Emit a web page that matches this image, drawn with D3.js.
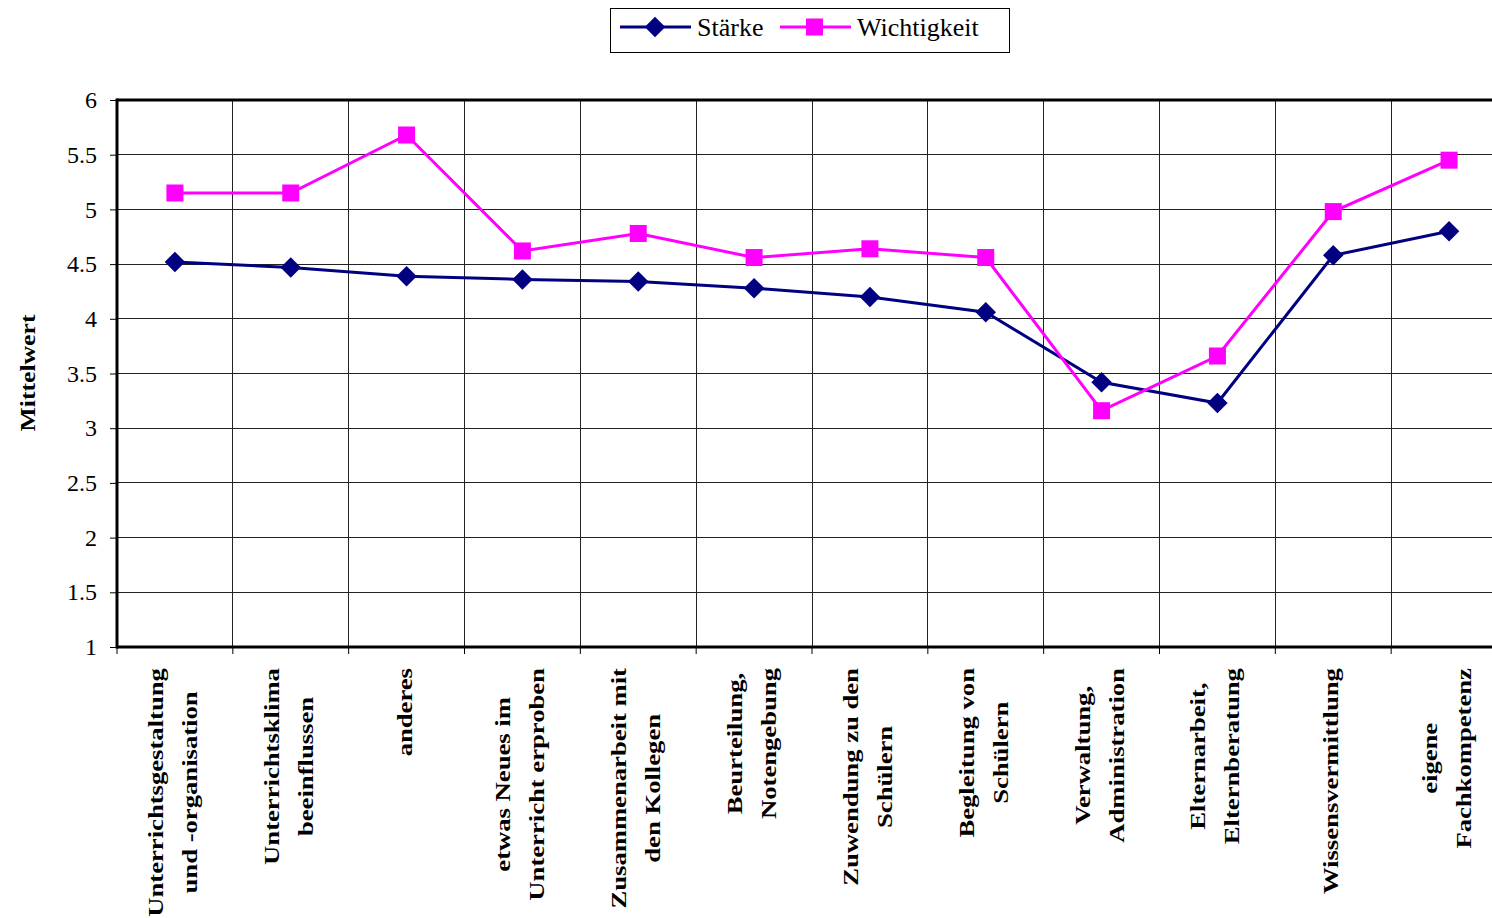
<!DOCTYPE html>
<html>
<head>
<meta charset="utf-8">
<script src="https://cdn.jsdelivr.net/npm/d3@7"></script>
<style>
  body { margin: 0; background: #fff; }
  svg { display: block; }
</style>
</head>
<body>
<svg id="svg" width="1492" height="918"></svg>
<script>
// categories (line breaks as in the original labels)
const categories = [
    ["Unterrichtsgestaltung", "und -organisation"],
    ["Unterrichtsklima", "beeinflussen"],
    ["anderes"],
    ["etwas Neues im", "Unterricht erproben"],
    ["Zusammenarbeit mit", "den Kollegen"],
    ["Beurteilung,", "Notengebung"],
    ["Zuwendung zu den", "Schülern"],
    ["Begleitung von", "Schülern"],
    ["Verwaltung,", "Administration"],
    ["Elternarbeit,", "Elternberatung"],
    ["Wissensvermittlung"],
    ["eigene", "Fachkompetenz"]
];
const staerke = [4.52, 4.47, 4.39, 4.36, 4.34, 4.28, 4.20, 4.06, 3.42, 3.23, 4.58, 4.80];
const wichtigkeit = [5.15, 5.15, 5.68, 4.62, 4.78, 4.56, 4.64, 4.56, 3.16, 3.66, 4.98, 5.45];
const yTicks = [1, 1.5, 2, 2.5, 3, 3.5, 4, 4.5, 5, 5.5, 6];

const svg = d3.select("#svg");
const font = "'Liberation Serif', 'Times New Roman', serif";

// plot area (right side runs past the window edge like in the original)
const plotLeft = 117, plotTop = 100, plotBottom = 647, plotWidth = 1390;

const keys = categories.map((c, i) => i);
const x = d3.scaleBand().domain(keys).range([plotLeft, plotLeft + plotWidth]).paddingInner(0).paddingOuter(0);
const y = d3.scaleLinear().domain([1, 6]).range([plotBottom, plotTop]);
const cx = i => x(i) + x.bandwidth() / 2;

// horizontal grid lines
svg.append("g").selectAll("line").data(yTicks).join("line")
    .attr("x1", plotLeft).attr("x2", plotLeft + plotWidth)
    .attr("y1", d => y(d)).attr("y2", d => y(d))
    .attr("stroke", "#222").attr("stroke-width", 1).attr("shape-rendering", "crispEdges");

// vertical grid lines at category boundaries
svg.append("g").selectAll("line").data(keys.slice(1)).join("line")
    .attr("x1", d => x(d)).attr("x2", d => x(d))
    .attr("y1", plotTop).attr("y2", plotBottom)
    .attr("stroke", "#222").attr("stroke-width", 1).attr("shape-rendering", "crispEdges");

// y axis
const yAxis = d3.axisLeft(y).tickValues(yTicks).tickSize(7).tickPadding(13).tickFormat(d3.format("~g"));
const gy = svg.append("g").attr("transform", `translate(${plotLeft},0)`).call(yAxis);
gy.select(".domain").remove();
gy.selectAll("text").attr("font-family", font).attr("font-size", 24).attr("fill", "#000");
gy.selectAll("line").attr("stroke", "#000");

// x axis ticks at band boundaries
svg.append("g").selectAll("line").data(keys).join("line")
    .attr("x1", d => x(d)).attr("x2", d => x(d))
    .attr("y1", plotBottom).attr("y2", plotBottom + 7)
    .attr("stroke", "#000").attr("stroke-width", 1);

// frame: thick left, bottom and top
svg.append("line").attr("x1", plotLeft).attr("x2", plotLeft).attr("y1", plotTop - 1.5).attr("y2", plotBottom + 1.5)
    .attr("stroke", "#000").attr("stroke-width", 3);
svg.append("line").attr("x1", plotLeft).attr("x2", plotLeft + plotWidth).attr("y1", plotBottom).attr("y2", plotBottom)
    .attr("stroke", "#000").attr("stroke-width", 3);
svg.append("line").attr("x1", plotLeft).attr("x2", plotLeft + plotWidth).attr("y1", plotTop).attr("y2", plotTop)
    .attr("stroke", "#000").attr("stroke-width", 3);

// x labels, rotated, reading bottom to top, a bit stretched along the text
const labelTop = 668, lineGap = 34, stretch = 1.24;
categories.forEach((lines, i) => {
    const g = svg.append("g");
    const texts = lines.map((t, j) => g.append("text")
        .attr("font-family", font).attr("font-weight", "bold").attr("font-size", 21.5)
        .attr("text-anchor", "middle")
        .text(t));
    const maxLen = d3.max(texts, t => t.node().getComputedTextLength()) * stretch;
    const cyMid = labelTop + maxLen / 2;
    const baseX = cx(i) - (lines.length - 1) * lineGap / 2 + 5;
    texts.forEach((t, j) => t.attr("transform",
        `translate(${baseX + j * lineGap},${cyMid}) rotate(-90) scale(${stretch},1)`));
});

// y title
svg.append("text")
    .attr("transform", "translate(35,373) rotate(-90)")
    .attr("text-anchor", "middle")
    .attr("font-family", font).attr("font-weight", "bold").attr("font-size", 21)
    .attr("textLength", 117).attr("lengthAdjust", "spacingAndGlyphs")
    .text("Mittelwert");

// series
const line = d3.line().x((d, i) => cx(i)).y(d => y(d));
const navy = "#000080", pink = "#FF00FF";

svg.append("path").datum(staerke).attr("d", line)
    .attr("fill", "none").attr("stroke", navy).attr("stroke-width", 3);
svg.append("path").datum(wichtigkeit).attr("d", line)
    .attr("fill", "none").attr("stroke", pink).attr("stroke-width", 3);

const diamond = d3.symbol().type(d3.symbolSquare).size(210)();
svg.append("g").selectAll("path").data(staerke).join("path")
    .attr("d", diamond)
    .attr("transform", (d, i) => `translate(${cx(i)},${y(d)}) rotate(45)`)
    .attr("fill", navy);
svg.append("g").selectAll("rect").data(wichtigkeit).join("rect")
    .attr("x", (d, i) => cx(i) - 8.5).attr("y", d => y(d) - 8.5)
    .attr("width", 17).attr("height", 17)
    .attr("fill", pink);

// legend
const legend = svg.append("g");
legend.append("rect").attr("x", 610.5).attr("y", 8.5).attr("width", 399).attr("height", 44)
    .attr("fill", "#fff").attr("stroke", "#000").attr("stroke-width", 1);
legend.append("line").attr("x1", 620).attr("x2", 691).attr("y1", 27).attr("y2", 27)
    .attr("stroke", navy).attr("stroke-width", 3);
legend.append("path").attr("d", diamond)
    .attr("transform", "translate(655,27) rotate(45)").attr("fill", navy);
legend.append("text").attr("x", 697).attr("y", 36).attr("font-family", font).attr("font-size", 26).text("Stärke");
legend.append("line").attr("x1", 780).attr("x2", 851).attr("y1", 27).attr("y2", 27)
    .attr("stroke", pink).attr("stroke-width", 3);
legend.append("rect").attr("x", 806).attr("y", 18.5).attr("width", 17).attr("height", 17).attr("fill", pink);
legend.append("text").attr("x", 857).attr("y", 36).attr("font-family", font).attr("font-size", 26).text("Wichtigkeit");
</script>
</body>
</html>
